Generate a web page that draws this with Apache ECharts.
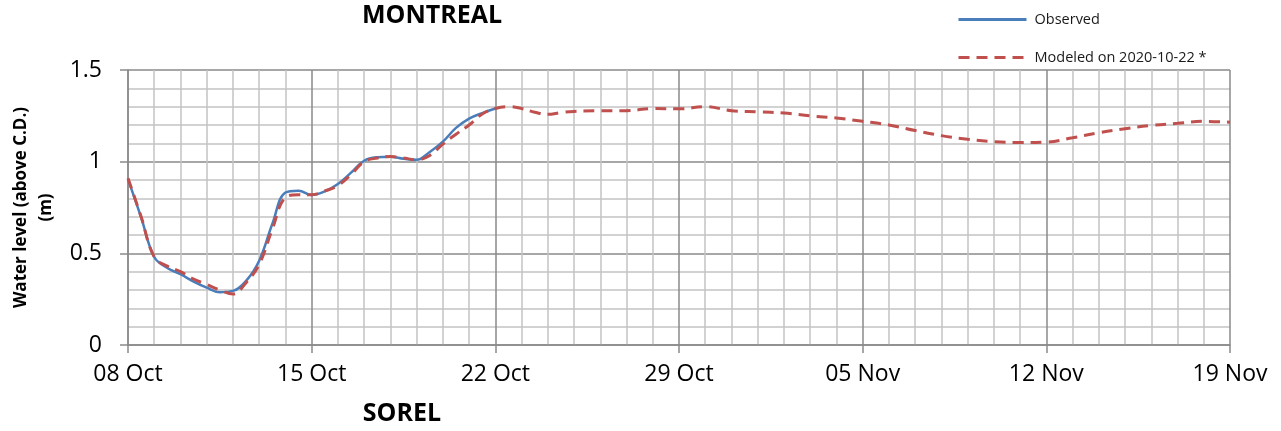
<!DOCTYPE html>
<html>
<head>
<meta charset="utf-8">
<script src="https://cdn.jsdelivr.net/npm/echarts@6/dist/echarts.min.js"></script>
<style>
html,body{margin:0;padding:0;background:#fff;}
#c{width:1281px;height:431px;}
</style>
</head>
<body>
<div id="c"></div>
<script>
// Tick labels (every 7 days from 08 Oct 2020)
const tickLabels = ['08 Oct', '15 Oct', '22 Oct', '29 Oct', '05 Nov', '12 Nov', '19 Nov'];

// Observed: day offset from 08 Oct 00:00, water level (m)
const obsDay = [0, 0.5, 1, 1.5, 2, 2.5, 3, 3.5, 4, 4.5, 5, 5.5, 6, 6.5, 7, 7.5, 8, 8.5, 9, 9.5, 10, 10.5, 11, 11.5, 12, 12.5, 13, 13.5, 14];
const obsValues = [0.905, 0.696, 0.48, 0.42, 0.386, 0.346, 0.313, 0.288, 0.295, 0.35, 0.46, 0.66, 0.832, 0.842, 0.818, 0.838, 0.878, 0.94, 1.005, 1.024, 1.027, 1.016, 1.01, 1.053, 1.109, 1.184, 1.235, 1.265, 1.29];

// Modeled on 2020-10-22
const modDay = [0, 0.5, 1, 1.5, 2, 2.5, 3, 3.5, 4, 4.5, 5, 5.5, 6, 6.5, 7, 7.5, 8, 8.5, 9, 9.5, 10, 10.5, 11, 11.5, 12, 12.5, 13, 13.5, 14, 14.5, 15, 15.5, 16, 16.5,
  17, 18, 19, 20, 21, 22, 23, 24, 25, 26, 27, 28, 29, 30, 31, 32, 33, 34, 35, 36, 37, 38, 39, 40, 41, 42];
const modValues = [0.91, 0.70, 0.48, 0.43, 0.40, 0.36, 0.33, 0.30, 0.278, 0.34, 0.44, 0.632, 0.805, 0.82, 0.82, 0.84, 0.87, 0.93, 1.00, 1.02, 1.028, 1.02, 1.01, 1.034, 1.096, 1.15, 1.2, 1.26, 1.29, 1.30, 1.29, 1.27, 1.258, 1.268,
  1.274, 1.278, 1.278, 1.29, 1.288, 1.30, 1.278, 1.272, 1.265, 1.25, 1.238, 1.22, 1.2, 1.17, 1.142, 1.122, 1.109, 1.104, 1.107, 1.13, 1.158, 1.18, 1.198, 1.209, 1.22, 1.215];

const FONT = '"Open Sans", "DejaVu Sans", sans-serif';
const chart = echarts.init(document.getElementById('c'), null, {renderer: 'canvas'});
const zip = (xs, ys) => xs.map((x, i) => [x, ys[i]]);

chart.setOption({
  animation: false,
  backgroundColor: '#ffffff',
  textStyle: {fontFamily: FONT},
  title: [
    {text: 'MONTREAL', left: 427, top: -2, textAlign: 'center',
     textStyle: {fontFamily: FONT, fontSize: 25, fontWeight: 'bold', color: '#000'}},
    {text: 'SOREL', left: 397, top: 396, textAlign: 'center',
     textStyle: {fontFamily: FONT, fontSize: 25, fontWeight: 'bold', color: '#000'}}
  ],
  legend: {
    orient: 'vertical', left: 952, top: 7,
    itemWidth: 68, itemHeight: 14, itemGap: 23,
    itemStyle: {opacity: 0, borderWidth: 0},
    lineStyle: {width: 3},
    textStyle: {fontFamily: FONT, fontSize: 14.5, color: '#1a1a1a', padding: [0, 0, 0, 3]},
    data: ['Observed', 'Modeled on 2020-10-22 *']
  },
  grid: {left: 128, right: 51, top: 70, bottom: 86, containLabel: false, outerBoundsMode: 'none'},
  xAxis: {
    type: 'value', min: 0, max: 42, interval: 7,
    axisLine: {show: true, onZero: false, lineStyle: {color: '#8a8a8a', width: 1.5}},
    axisTick: {show: true, length: 8, lineStyle: {color: '#8a8a8a', width: 1.5}},
    axisLabel: {margin: 18, fontSize: 23, color: '#000', fontFamily: FONT,
      formatter: v => tickLabels[Math.round(v / 7)]},
    splitLine: {show: true, lineStyle: {color: '#8a8a8a', width: 1.5}},
    minorTick: {show: false, splitNumber: 7},
    minorSplitLine: {show: true, lineStyle: {color: '#c3c3c3', width: 1.5}}
  },
  yAxis: {
    type: 'value', min: 0, max: 1.5, interval: 0.5,
    name: 'Water level (above C.D.)\n(m)',
    nameLocation: 'middle', nameGap: 65, nameRotate: 90,
    nameTextStyle: {fontFamily: FONT, fontSize: 17, fontWeight: 'bold', color: '#000', lineHeight: 25},
    axisLine: {show: true, lineStyle: {color: '#8a8a8a', width: 1.5}},
    axisTick: {show: true, length: 8, lineStyle: {color: '#8a8a8a', width: 1.5}},
    axisLabel: {margin: 26, fontSize: 23, color: '#000', fontFamily: FONT,
      formatter: v => (v === 0 ? '0' : String(v))},
    splitLine: {show: true, lineStyle: {color: '#8a8a8a', width: 1.5}},
    minorTick: {show: false, splitNumber: 5},
    minorSplitLine: {show: true, lineStyle: {color: '#c3c3c3', width: 1.5}}
  },
  series: [
    {name: 'Observed', type: 'line', data: zip(obsDay, obsValues), smooth: 0.4,
     symbol: 'none', showSymbol: false, z: 3,
     lineStyle: {color: '#4a7ebb', width: 2.5}, itemStyle: {color: '#4a7ebb'}},
    {name: 'Modeled on 2020-10-22 *', type: 'line', data: zip(modDay, modValues), smooth: 0.4,
     symbol: 'none', showSymbol: false, z: 4,
     lineStyle: {color: '#c0504d', width: 3, type: [11, 7]}, itemStyle: {color: '#c0504d'}}
  ]
});
</script>
</body>
</html>
